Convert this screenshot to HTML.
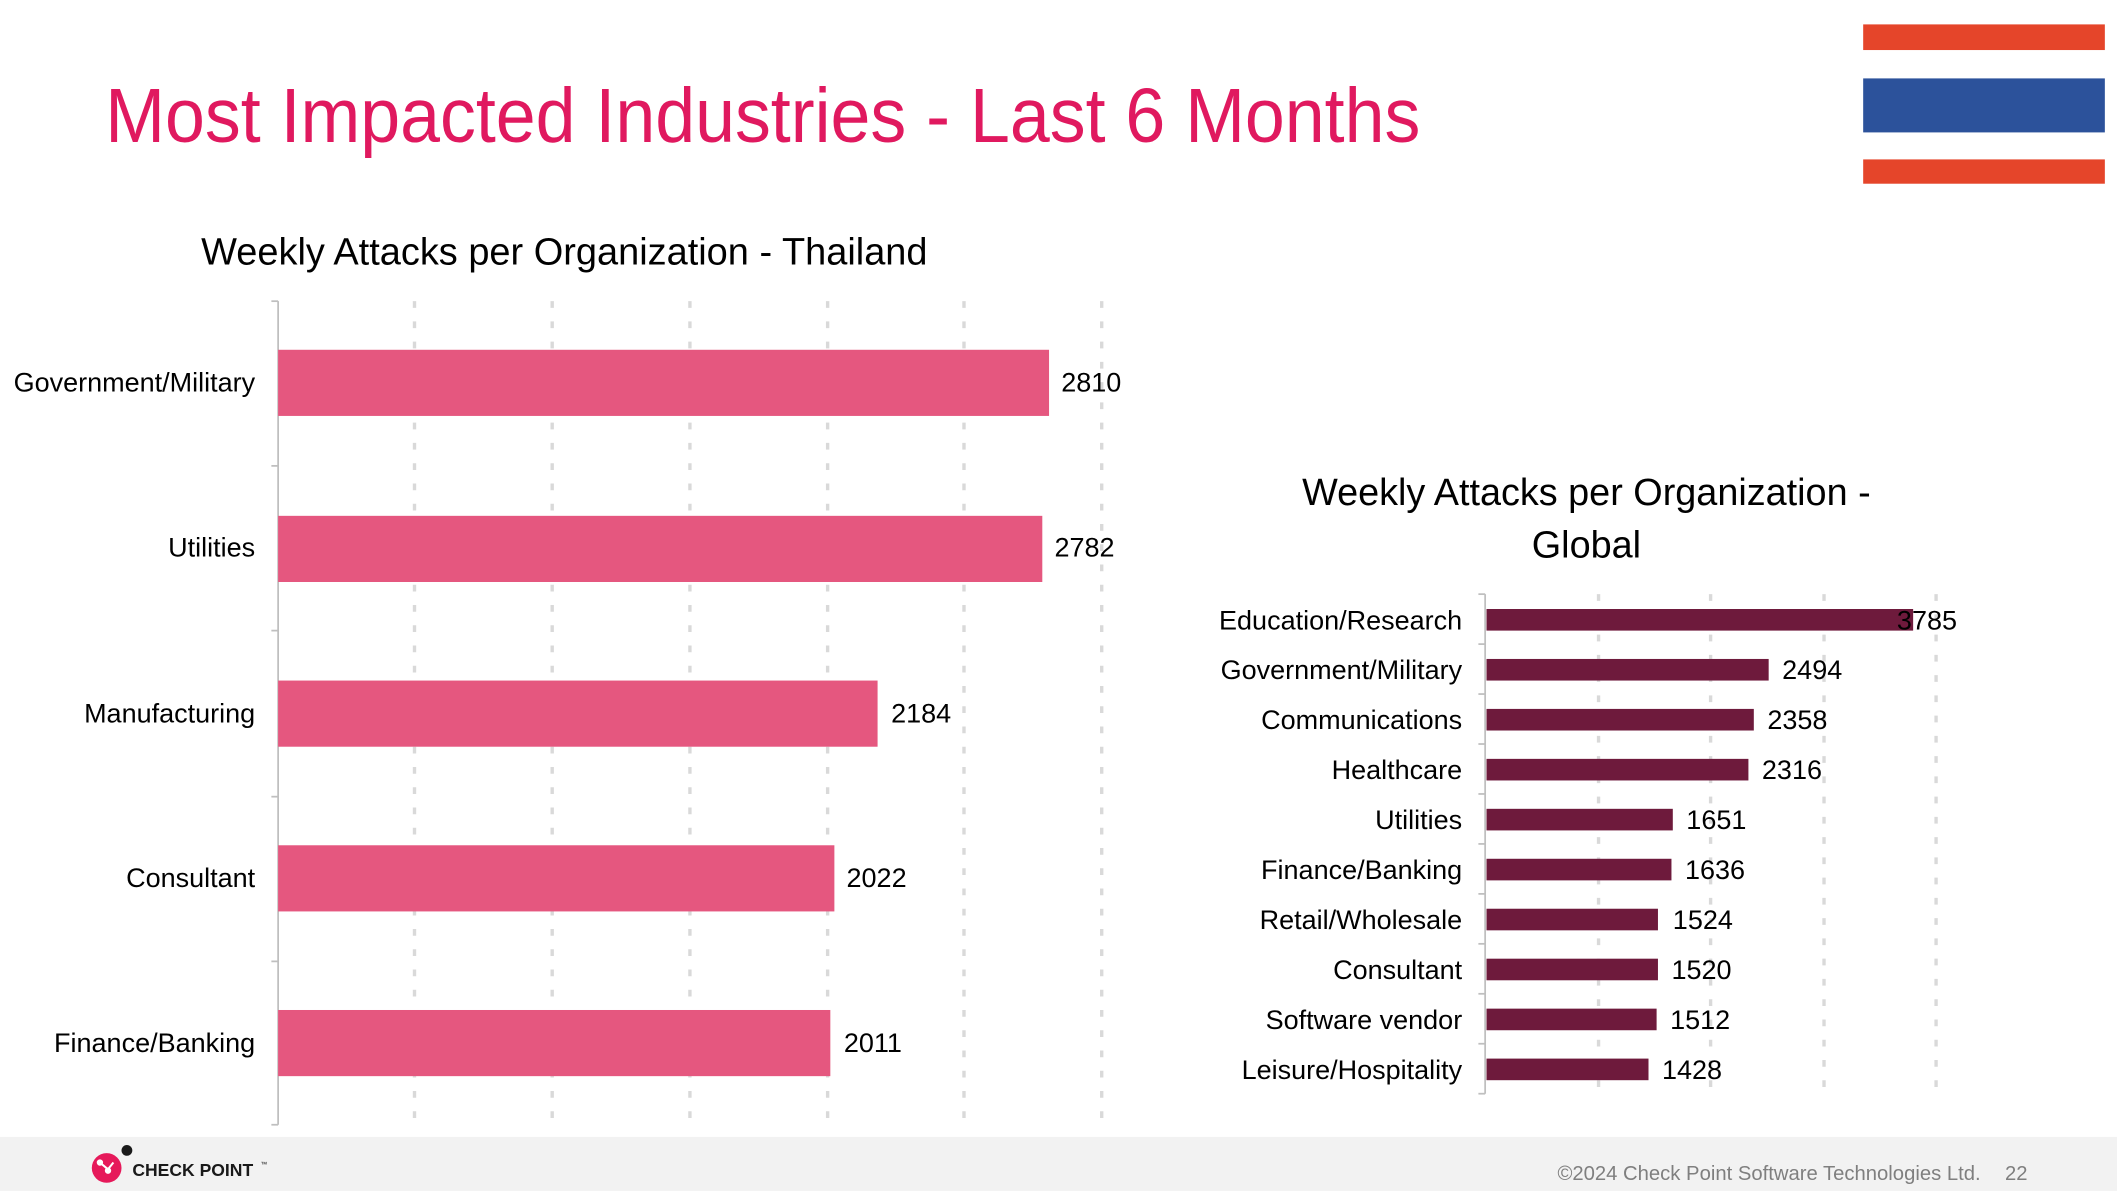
<!DOCTYPE html>
<html><head><meta charset="utf-8"><style>
html,body{margin:0;padding:0;background:#fff;width:2117px;height:1191px;overflow:hidden}
svg{display:block}
text{font-family:"Liberation Sans",sans-serif}
</style></head><body>
<svg width="2117" height="1191" viewBox="0 0 1568 882" xmlns="http://www.w3.org/2000/svg">
<rect x="0" y="0" width="1568" height="882" fill="#fff"/>
<text x="78" y="105" font-size="57" fill="#e0195f" textLength="974" lengthAdjust="spacingAndGlyphs">Most Impacted Industries - Last 6 Months</text>
<rect x="1380" y="18" width="179" height="19" fill="#e5452a"/>
<rect x="1380" y="58" width="179" height="40" fill="#2c529b"/>
<rect x="1380" y="118" width="179" height="18" fill="#e5452a"/>

<text x="418" y="196" font-size="28" fill="#000" text-anchor="middle" textLength="538" lengthAdjust="spacingAndGlyphs">Weekly Attacks per Organization - Thailand</text>
<g stroke="#d9d9d9" stroke-width="2.5" stroke-dasharray="5,10">
<line x1="307" y1="223" x2="307" y2="833"/><line x1="409" y1="223" x2="409" y2="833"/><line x1="511" y1="223" x2="511" y2="833"/><line x1="613" y1="223" x2="613" y2="833"/><line x1="714" y1="223" x2="714" y2="833"/><line x1="816" y1="223" x2="816" y2="833"/>
</g>
<g stroke="#bfbfbf" stroke-width="1.3">
<line x1="206" y1="223" x2="206" y2="833"/>
<line x1="201" y1="223" x2="206" y2="223"/><line x1="201" y1="345" x2="206" y2="345"/><line x1="201" y1="467" x2="206" y2="467"/><line x1="201" y1="590" x2="206" y2="590"/><line x1="201" y1="712" x2="206" y2="712"/><line x1="201" y1="833" x2="206" y2="833"/>
</g>
<g fill="#e5577f">
<rect x="206" y="259" width="571" height="49"/>
<rect x="206" y="382" width="566" height="49"/>
<rect x="206" y="504" width="444" height="49"/>
<rect x="206" y="626" width="412" height="49"/>
<rect x="206" y="748" width="409" height="49"/>
</g>
<g font-size="20" fill="#000" text-anchor="end">
<text x="189" y="290">Government/Military</text>
<text x="189" y="412">Utilities</text>
<text x="189" y="535">Manufacturing</text>
<text x="189" y="657">Consultant</text>
<text x="189" y="779">Finance/Banking</text>
</g>
<g font-size="20" fill="#000">
<text x="786" y="290">2810</text>
<text x="781" y="412">2782</text>
<text x="660" y="535">2184</text>
<text x="627" y="657">2022</text>
<text x="625" y="779">2011</text>
</g>

<text x="1175" y="374" font-size="28" fill="#000" text-anchor="middle">Weekly Attacks per Organization -</text>
<text x="1175" y="413" font-size="28" fill="#000" text-anchor="middle">Global</text>
<g stroke="#d9d9d9" stroke-width="2.5" stroke-dasharray="5,10">
<line x1="1184" y1="440" x2="1184" y2="810"/><line x1="1267" y1="440" x2="1267" y2="810"/><line x1="1351" y1="440" x2="1351" y2="810"/><line x1="1434" y1="440" x2="1434" y2="810"/>
</g>
<g stroke="#bfbfbf" stroke-width="1.3">
<line x1="1100" y1="440" x2="1100" y2="810"/>
<line x1="1095" y1="440" x2="1100" y2="440"/><line x1="1095" y1="477" x2="1100" y2="477"/><line x1="1095" y1="514" x2="1100" y2="514"/><line x1="1095" y1="551" x2="1100" y2="551"/><line x1="1095" y1="588" x2="1100" y2="588"/><line x1="1095" y1="625" x2="1100" y2="625"/><line x1="1095" y1="662" x2="1100" y2="662"/><line x1="1095" y1="699" x2="1100" y2="699"/><line x1="1095" y1="736" x2="1100" y2="736"/><line x1="1095" y1="773" x2="1100" y2="773"/><line x1="1095" y1="810" x2="1100" y2="810"/>
</g>
<g fill="#6e1a3c">
<rect x="1101" y="451" width="316" height="16"/>
<rect x="1101" y="488" width="209" height="16"/>
<rect x="1101" y="525" width="198" height="16"/>
<rect x="1101" y="562" width="194" height="16"/>
<rect x="1101" y="599" width="138" height="16"/>
<rect x="1101" y="636" width="137" height="16"/>
<rect x="1101" y="673" width="127" height="16"/>
<rect x="1101" y="710" width="127" height="16"/>
<rect x="1101" y="747" width="126" height="16"/>
<rect x="1101" y="784" width="120" height="16"/>
</g>
<g font-size="20" fill="#000" text-anchor="end">
<text x="1083" y="466">Education/Research</text>
<text x="1083" y="503">Government/Military</text>
<text x="1083" y="540">Communications</text>
<text x="1083" y="577">Healthcare</text>
<text x="1083" y="614">Utilities</text>
<text x="1083" y="651">Finance/Banking</text>
<text x="1083" y="688">Retail/Wholesale</text>
<text x="1083" y="725">Consultant</text>
<text x="1083" y="762">Software vendor</text>
<text x="1083" y="799">Leisure/Hospitality</text>
</g>
<g font-size="20" fill="#000">
<text x="1405" y="466">3785</text>
<text x="1320" y="503">2494</text>
<text x="1309" y="540">2358</text>
<text x="1305" y="577">2316</text>
<text x="1249" y="614">1651</text>
<text x="1248" y="651">1636</text>
<text x="1239" y="688">1524</text>
<text x="1238" y="725">1520</text>
<text x="1237" y="762">1512</text>
<text x="1231" y="799">1428</text>
</g>

<rect x="0" y="842" width="1568" height="40" fill="#f2f2f2"/>
<circle cx="79" cy="865" r="11" fill="#e6195a"/>
<circle cx="94" cy="852" r="4" fill="#1a1a1a"/>
<g stroke="#fff" stroke-width="1.5" fill="#fff"><line x1="74" y1="861" x2="80" y2="866"/><line x1="80" y1="866" x2="84" y2="861"/><circle cx="74" cy="861" r="1.6"/><circle cx="80" cy="867" r="1.6"/></g>
<text x="98" y="871" font-size="13" font-weight="bold" fill="#1a1a1a">CHECK POINT</text>
<text x="193" y="864" font-size="5" fill="#1a1a1a">™</text>
<text x="1467" y="874" font-size="15" fill="#7f7f7f" text-anchor="end">©2024 Check Point Software Technologies Ltd.</text>
<text x="1485" y="874" font-size="15" fill="#7f7f7f">22</text>
</svg>
</body></html>
